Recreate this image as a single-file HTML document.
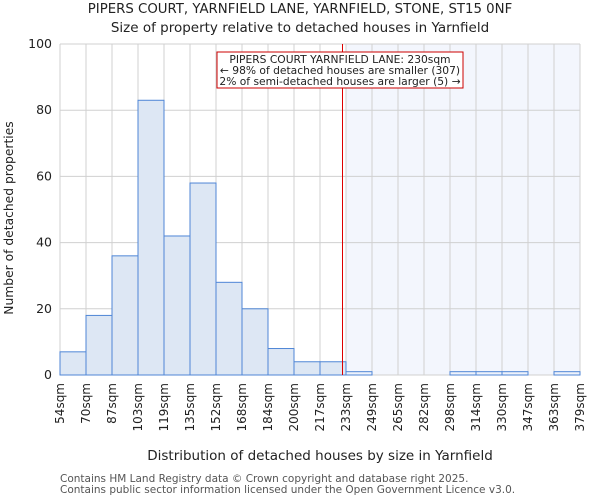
<!DOCTYPE html>
<html><head><meta charset="utf-8"><style>
body{margin:0;background:#fff;font-family:"DejaVu Sans","Liberation Sans",sans-serif;}
text{font-family:"DejaVu Sans","Liberation Sans",sans-serif;fill:#222;}
</style></head><body>
<svg id="chart" width="600" height="500" xmlns="http://www.w3.org/2000/svg">
<text x="300" y="13" font-size="13.3" text-anchor="middle">PIPERS COURT, YARNFIELD LANE, YARNFIELD, STONE, ST15 0NF</text>
<text x="300" y="32" font-size="13.5" text-anchor="middle">Size of property relative to detached houses in Yarnfield</text>
<g id="plot"></g>
<text x="320" y="460" font-size="13.5" text-anchor="middle">Distribution of detached houses by size in Yarnfield</text>
<text transform="translate(13,218) rotate(-90)" font-size="12.3" text-anchor="middle">Number of detached properties</text>
<text x="60" y="482" font-size="10.5" style="fill:#555">Contains HM Land Registry data © Crown copyright and database right 2025.</text>
<text x="60" y="493" font-size="10.5" style="fill:#555">Contains public sector information licensed under the Open Government Licence v3.0.</text>
</svg>
<script>
const binLabels=["54sqm","70sqm","87sqm","103sqm","119sqm","135sqm","152sqm","168sqm","184sqm","200sqm","217sqm","233sqm","249sqm","265sqm","282sqm","298sqm","314sqm","330sqm","347sqm","363sqm","379sqm"];
const counts=[7,18,36,83,42,58,28,20,8,4,4,1,0,0,0,1,1,1,0,1];
const yTicks=[0,20,40,60,80,100];
const binStart=54, binWidth=16.25;
const propertySize=230;
const highlightFromBin=11;
const NS="http://www.w3.org/2000/svg";
const L=60,R=580,T=44,B=375;
const g=document.getElementById('plot');
const n=counts.length;
const xs=i=>L+(R-L)*i/n;
const xv=v=>L+(R-L)*(v-binStart)/(binWidth*n);
const ys=v=>B-(B-T)*v/100;
function el(tag,a){const e=document.createElementNS(NS,tag);for(const k in a)e.setAttribute(k,a[k]);g.appendChild(e);return e;}
let hl=el('rect',{x:xs(highlightFromBin),y:T,width:R-xs(highlightFromBin),height:B-T,fill:'#f3f6fd'});


for(let i=0;i<=n;i++){let l=el('line',{x1:xs(i),x2:xs(i),y1:T,y2:B,stroke:'#d0d0d0','stroke-width':1});

}
yTicks.forEach(t=>{let l=el('line',{x1:L,x2:R,y1:ys(t),y2:ys(t),stroke:'#d0d0d0','stroke-width':1});


let tx=el('text',{x:L-8,y:ys(t)+4,'font-size':12.5,'text-anchor':'end'});tx.textContent=t;

});
counts.forEach((c,i)=>{let r=el('rect',{x:xs(i),y:ys(c),width:xs(i+1)-xs(i),height:B-ys(c),fill:i>=highlightFromBin?'#eef2fb':'#dde7f4',stroke:'#4f86d6','stroke-width':1});

});
binLabels.forEach((s,i)=>{let tx=el('text',{transform:`translate(${xs(i)+4},${B+8}) rotate(-90)`,'font-size':12,'text-anchor':'end'});tx.textContent=s;

});
const mx=Math.round(xv(propertySize))+0.5;
let rl=el('line',{x1:mx,x2:mx,y1:T,y2:B,stroke:'#dd0000','stroke-width':1});


let box=el('rect',{x:217,y:52,width:246,height:36,fill:'#fff',stroke:'#cc0000','stroke-width':1});


["PIPERS COURT YARNFIELD LANE: 230sqm","← 98% of detached houses are smaller (307)","2% of semi-detached houses are larger (5) →"].forEach((s,i)=>{let tx=el('text',{x:340,y:63+i*11,'font-size':10.7,'text-anchor':'middle'});tx.textContent=s;

});
</script>
</body></html>
